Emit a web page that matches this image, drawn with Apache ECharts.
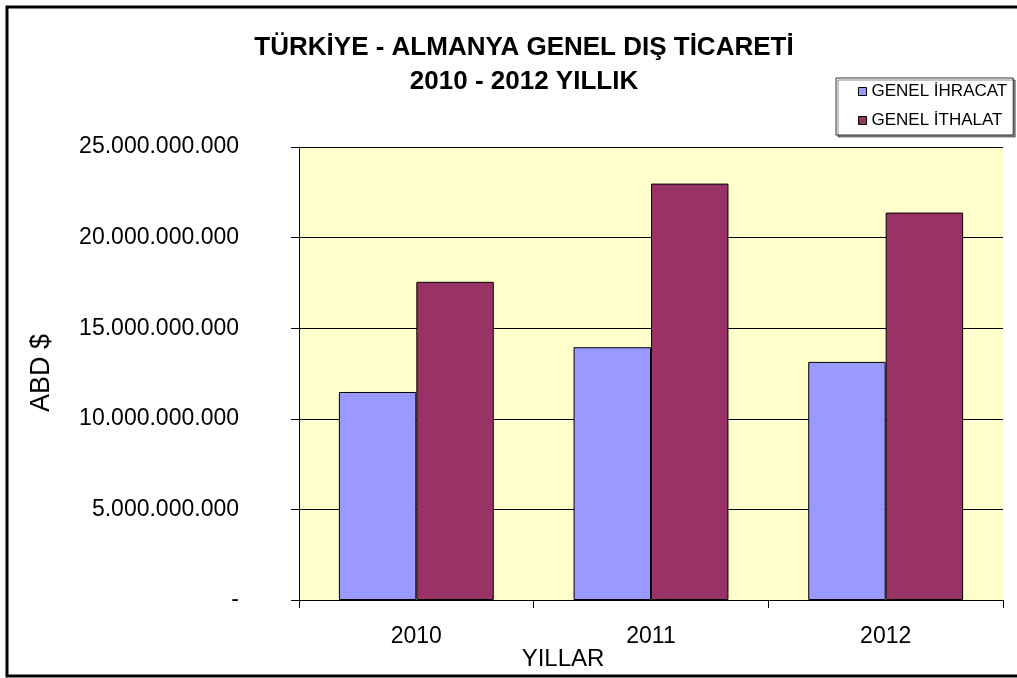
<!DOCTYPE html>
<html>
<head>
<meta charset="utf-8">
<script src="https://cdn.jsdelivr.net/npm/echarts@6/dist/echarts.min.js"></script>
<style>html,body{margin:0;padding:0;background:#fff}#c{width:1017px;height:678px}</style>
</head>
<body>
<div id="c"></div>
<script>
const categories = ['2010', '2011', '2012'];
const ihracat = [11480000000, 13950000000, 13140000000];
const ithalat = [17560000000, 22980000000, 21380000000];
const seriesNames = ['GENEL İHRACAT', 'GENEL İTHALAT'];
const titleText = 'TÜRKİYE - ALMANYA GENEL DIŞ TİCARETİ\n2010 - 2012 YILLIK';
const FF = '"Liberation Sans", Arial, sans-serif';

function fmt(v) {
  if (v === 0) return '-';
  return String(Math.round(v)).replace(/\B(?=(\d{3})+(?!\d))/g, '.');
}

const chart = echarts.init(document.getElementById('c'), null, {renderer: 'canvas'});
chart.setOption({
  animation: false,
  backgroundColor: '#fff',
  textStyle: {fontFamily: FF},
  title: {
    text: titleText,
    left: 519, top: 26, textAlign: 'center',
    textStyle: {fontFamily: FF, fontSize: 26, fontWeight: 'bold', color: '#000', lineHeight: 34}
  },
  legend: {
    orient: 'vertical',
    left: 836, top: 78,
    padding: [5, 6, 6, 22],
    itemGap: 12,
    itemWidth: 8, itemHeight: 8,
    borderColor: '#333', borderWidth: 1,
    backgroundColor: '#fff',
    shadowColor: 'rgba(0,0,0,0.45)', shadowOffsetX: 2, shadowOffsetY: 2,
    icon: 'rect',
    itemStyle: {borderColor: '#000', borderWidth: 1},
    textStyle: {fontFamily: FF, fontSize: 17, color: '#000'},
    data: seriesNames
  },
  grid: {left: 299, right: 14, top: 147, bottom: 78, show: true, backgroundColor: '#FFFFCC', borderWidth: 0},
  xAxis: {
    type: 'category',
    data: categories,
    boundaryGap: true,
    axisLine: {lineStyle: {color: '#000', width: 1}},
    axisTick: {show: true, length: 8, lineStyle: {color: '#000'}},
    axisLabel: {fontFamily: FF, fontSize: 23, color: '#000', margin: 25},
    splitLine: {show: false}
  },
  yAxis: {
    type: 'value',
    min: 0, max: 25000000000, interval: 5000000000,
    axisLine: {show: true, lineStyle: {color: '#000', width: 1}},
    axisTick: {show: true, length: 8, lineStyle: {color: '#000'}},
    axisLabel: {fontFamily: FF, fontSize: 23, color: '#000', margin: 60, formatter: fmt},
    splitLine: {show: true, lineStyle: {color: '#000', width: 1}}
  },
  series: [
    {
      name: seriesNames[0], type: 'bar', data: ihracat,
      barWidth: '33%', barGap: '0%',
      itemStyle: {color: '#9999FF', borderColor: '#000', borderWidth: 1}
    },
    {
      name: seriesNames[1], type: 'bar', data: ithalat,
      barWidth: '33%', barGap: '0%',
      itemStyle: {color: '#993366', borderColor: '#000', borderWidth: 1}
    }
  ],
  graphic: [
    {type: 'rect', shape: {x: 7, y: 7, width: 1020, height: 669}, style: {fill: 'none', stroke: '#000', lineWidth: 3}, silent: true, z: 100},
    {type: 'text', x: 563, y: 659, style: {text: 'YILLAR', font: '24px ' + FF, fill: '#000', textAlign: 'center', textVerticalAlign: 'middle'}},
    {type: 'text', x: 42, y: 373, rotation: Math.PI / 2, style: {text: 'ABD $', font: '27px ' + FF, fill: '#000', textAlign: 'center', textVerticalAlign: 'middle'}}
  ]
});
</script>
</body>
</html>
